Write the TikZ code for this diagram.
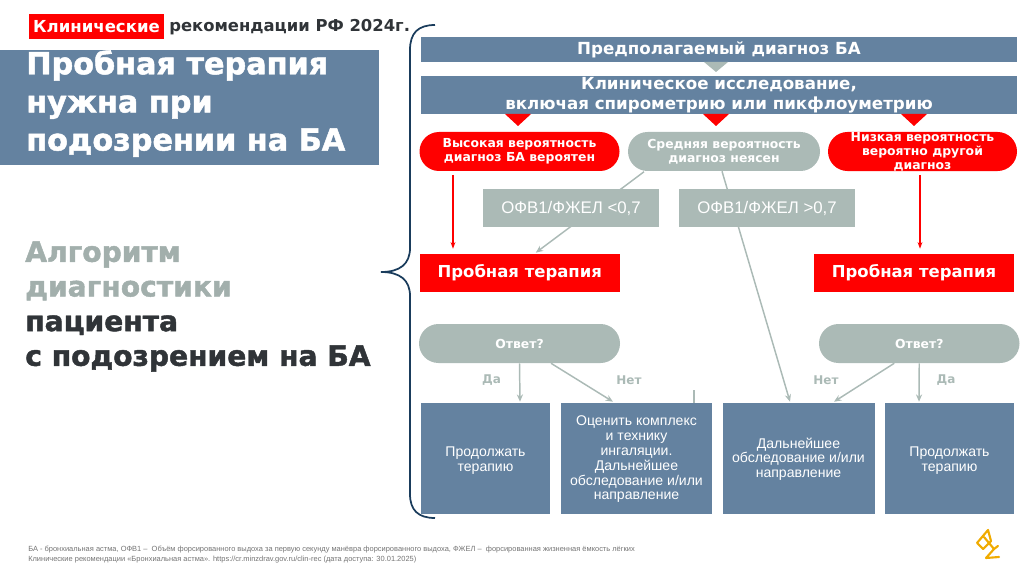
\documentclass[tikz,border=0pt]{standalone}
\usepackage{fontspec}
\setmainfont{Liberation Sans}
\newfontfamily\headfont{DejaVu Sans}[BoldFont={DejaVu Sans Bold}]
\newfontfamily\heavyfont{DejaVu Sans Bold}[FakeBold=1.6]
\usetikzlibrary{shapes.misc,arrows.meta}
\definecolor{algoSlate}{RGB}{100,130,160}
\definecolor{algoGrey}{RGB}{171,186,182}
\definecolor{algoRed}{RGB}{255,0,0}
\definecolor{algoTitleGrey}{RGB}{162,175,172}
\definecolor{algoInk}{RGB}{48,52,56}
\definecolor{algoBrace}{RGB}{26,60,92}
\definecolor{algoGold}{RGB}{240,171,0}
\def\pxsz{0.75pt}
\newcommand{\slatelines}[2]{\begin{tabular}{@{}c@{}}\rule{0pt}{#1}#2\end{tabular}}
\tikzset{
  pxbox/.style 2 args={inner sep=0pt, minimum width=#1*\pxsz, minimum height=#2*\pxsz},
  slatebox/.style={rectangle, fill=algoSlate, text=white, align=center},
  slatehead/.style={slatebox, font=\headfont\bfseries\fontsize{12.5}{14.8}\selectfont},
  slatetext/.style={rectangle, fill=algoSlate, text=white, font=\fontsize{10.55}{11.1}\selectfont},
  redbox/.style={rectangle, fill=algoRed, text=white, font=\headfont\bfseries\fontsize{12.35}{14}\selectfont},
  greybox/.style={rectangle, fill=algoGrey, text=white, font=\fontsize{12.6}{14}\selectfont},
  redpill/.style={rounded rectangle, fill=algoRed, text=white, align=center, font=\headfont\bfseries\fontsize{9.3}{10.6}\selectfont},
  greypill/.style={rounded rectangle, fill=algoGrey, text=white, align=center, font=\headfont\bfseries\fontsize{9.3}{10.6}\selectfont},
  arrowred/.style={draw=algoRed, line width=0.8pt, -{Stealth[length=5pt,width=3.6pt]}},
  arrowgrey/.style={draw=algoGrey, line width=1.1pt, -{Stealth[length=5.5pt,width=4.6pt]}},
  answerlabel/.style={text=algoGrey, font=\headfont\bfseries\fontsize{9}{10}\selectfont},
  bigtitle/.style={anchor=north west, inner sep=0pt, align=left},
}
\begin{document}
\begin{tikzpicture}[x=\pxsz, y=-\pxsz]
\useasboundingbox (0,0) rectangle (1024,574);
% Heading strip
\node[pxbox={135}{25}, fill=algoRed, text=white, font=\headfont\bfseries\fontsize{12.4}{14}\selectfont] (tagClin) at (96.5,26.5) {Клинические};
\node[anchor=west, inner sep=0pt, text=algoInk, font=\headfont\bfseries\fontsize{12.3}{14}\selectfont] (tagRec) at (169,27) {рекомендации РФ 2024г.};
% Left column
\fill[algoSlate] (0,50) rectangle (379,165);
\node[bigtitle, text=white, font=\heavyfont\fontsize{22.7}{28.6}\selectfont] (titleTrial) at (26,50) {Пробная терапия\\нужна при\\подозрении на БА};
\node[bigtitle, text=algoInk, font=\heavyfont\fontsize{21.1}{26}\selectfont] (titleAlgo) at (25,241) {\textcolor{algoTitleGrey}{Алгоритм}\\\textcolor{algoTitleGrey}{диагностики}\\пациента\\с подозрением на БА};
% Brace
\draw[algoBrace, line width=1.3pt] (435,25) .. controls (418,25) and (410,33) .. (410,50) -- (410,248)
  .. controls (410,264) and (400,272) .. (381,272) .. controls (400,272) and (410,280) .. (410,296)
  -- (410,494) .. controls (410,510) and (418,518) .. (435,518);
% Top boxes and wedges
\node[slatehead, pxbox={596}{25}] (boxSuspect) at (719,49.5) {Предполагаемый диагноз БА};
\fill[algoGrey] (704,62) -- (728,62) -- (716,72) -- cycle;
\node[slatehead, pxbox={596}{38}] (boxClinical) at (719,95) {Клиническое исследование,\\включая спирометрию или пикфлоуметрию};
\fill[algoRed] (505,114) -- (531,114) -- (518,126) -- cycle;
\fill[algoRed] (703,114) -- (729,114) -- (716,126) -- cycle;
\fill[algoRed] (901,114) -- (927,114) -- (914,126) -- cycle;
% Probability
\node[redpill, pxbox={200}{39}] (pillHigh) at (519.5,151.5) {Высокая вероятность\\диагноз БА вероятен};
\node[greypill, pxbox={192}{39}] (pillMid) at (724,151.5) {Средняя вероятность\\диагноз неясен};
\node[redpill, pxbox={189}{39}] (pillLow) at (922.5,151.5) {Низкая вероятность\\вероятно другой\\диагноз};
% Trial therapy
\node[redbox, pxbox={199.5}{38}] (trialLeft) at (519.75,273) {Пробная терапия};
\node[redbox, pxbox={200}{38}] (trialRight) at (914,273) {Пробная терапия};
% Answers
\node[greypill, pxbox={201}{39}] (answerLeft) at (519.5,343.5) {Ответ?};
\node[greypill, pxbox={200.5}{39}] (answerRight) at (919.25,343.5) {Ответ?};
% Outcomes
\node[slatetext, pxbox={129}{111}] (goLeft) at (485.5,458.5) {\slatelines{12pt}{Продолжать\\терапию}};
\node[slatetext, pxbox={151}{111}] (checkInh) at (636.5,458.5) {\slatelines{10pt}{Оценить комплекс\\и технику\\ингаляции.\\Дальнейшее\\обследование и/или\\направление}};
\node[slatetext, pxbox={152}{111}] (refer) at (798.5,458.5) {\slatelines{10pt}{Дальнейшее\\обследование и/или\\направление}};
\node[slatetext, pxbox={129}{111}] (goRight) at (949.5,458.5) {\slatelines{12pt}{Продолжать\\терапию}};
% Connectors, the ratio boxes go on top of them
\draw[arrowgrey] ([xshift=-80*\pxsz,yshift=-0.5*\pxsz]pillMid.south) -- ([xshift=16*\pxsz,yshift=1*\pxsz]trialLeft.north);
\draw[arrowgrey] ([xshift=-2*\pxsz]pillMid.south) -- ([xshift=-8.5*\pxsz,yshift=1*\pxsz]refer.north);
\node[greybox, pxbox={176}{38}] (ratioLow) at (571,208) {ОФВ1/ФЖЕЛ <0,7};
\node[greybox, pxbox={176}{38}] (ratioHigh) at (767,208) {ОФВ1/ФЖЕЛ >0,7};
\draw[arrowred] ([xshift=-66.5*\pxsz,yshift=-4*\pxsz]pillHigh.south) -- ([xshift=-66.75*\pxsz,yshift=5*\pxsz]trialLeft.north);
\draw[arrowred] ([xshift=-2.5*\pxsz,yshift=-4*\pxsz]pillLow.south) -- ([xshift=6*\pxsz,yshift=5*\pxsz]trialRight.north);
\draw[arrowgrey] (answerLeft.south) -- ([xshift=34.5*\pxsz,yshift=1*\pxsz]goLeft.north);
\draw[arrowgrey] ([xshift=31.5*\pxsz]answerLeft.south) -- ([xshift=-23.5*\pxsz,yshift=1*\pxsz]checkInh.north);
\draw[arrowgrey] ([xshift=-25*\pxsz]answerRight.south) -- ([xshift=35.5*\pxsz,yshift=1*\pxsz]refer.north);
\draw[arrowgrey] (answerRight.south) -- ([xshift=-30.5*\pxsz,yshift=1*\pxsz]goRight.north);
\coordinate (stubTop) at (694,390);
\draw[algoGrey, line width=1pt] (stubTop) -- (stubTop |- checkInh.north);
% Answer labels
\node[answerlabel] (yesLeft) at (491.5,380) {Да};
\node[answerlabel] (noLeft) at (629,380) {Нет};
\node[answerlabel] (noRight) at (826,380) {Нет};
\node[answerlabel] (yesRight) at (946,380) {Да};
% Footnotes
\node[anchor=base west, inner sep=0pt, text=black!55, font=\fontsize{5.6}{6}\selectfont] (noteAbbr) at (28,551) {БА - бронхиальная астма, ОФВ1 –\ \ Объём форсированного выдоха за первую секунду манёвра форсированного выдоха, ФЖЕЛ –\ \ форсированная жизненная ёмкость лёгких};
\node[anchor=base west, inner sep=0pt, text=black!55, font=\fontsize{5.6}{6}\selectfont] (noteRef) at (28,561) {Клинические рекомендации «Бронхиальная астма». https://cr.minzdrav.gov.ru/clin-rec (дата доступа: 30.01.2025)};
% Logo mark
\begin{scope}[draw=algoGold, line width=1.6pt, line join=round, line cap=round]
  \draw (977,543) -- (988,530) -- (991,541) -- (983,549) -- (977,543);
  \draw (984,537) -- (994,549) -- (998,546);
  \draw (994,549) -- (986,558) -- (999,557);
\end{scope}
\end{tikzpicture}
\end{document}
